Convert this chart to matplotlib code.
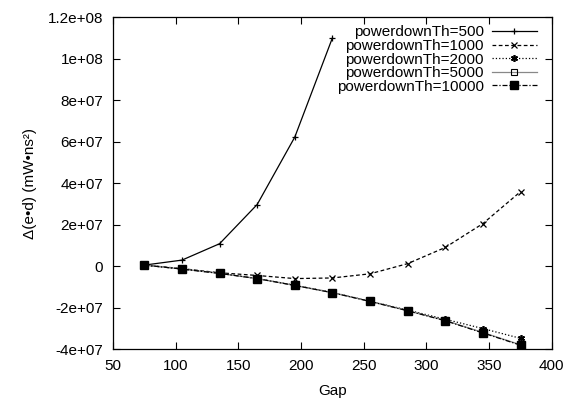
import numpy as np
import matplotlib
matplotlib.use("Agg")
import matplotlib.pyplot as plt

plt.rcParams['font.family'] = ['Liberation Sans', 'DejaVu Sans']

gap = [75, 105, 135, 165, 195, 225, 255, 285, 315, 345, 375]

th500 = [5e5, 2.9e6, 1.08e7, 2.97e7, 6.22e7, 1.10e8]
th1000 = [5e5, -1.2e6, -3.2e6, -4.5e6, -6.0e6, -5.7e6, -3.7e6, 1.2e6, 9.0e6, 2.05e7, 3.59e7]
th2000 = [5e5, -1.4e6, -3.4e6, -6.0e6, -9.2e6, -1.27e7, -1.69e7, -2.12e7, -2.56e7, -3.01e7, -3.48e7]
th5000 = [5e5, -1.4e6, -3.5e6, -6.0e6, -9.3e6, -1.28e7, -1.70e7, -2.15e7, -2.62e7, -3.2e7, -3.79e7]
th10000 = [5e5, -1.4e6, -3.5e6, -6.0e6, -9.3e6, -1.28e7, -1.70e7, -2.15e7, -2.63e7, -3.22e7, -3.81e7]

labels = ['powerdownTh=500', 'powerdownTh=1000', 'powerdownTh=2000',
          'powerdownTh=5000', 'powerdownTh=10000']

fig = plt.figure(figsize=(5.66, 3.99), dpi=100)
ax = fig.add_axes([0.1996, 0.125, 0.7754, 0.832])

lw = 0.9
ax.plot(gap[:len(th500)], th500, '-', color='black', lw=lw, marker='+', ms=5, mew=0.9, label=labels[0])
ax.plot(gap, th1000, '--', color='black', lw=lw, dashes=(3, 2), marker='x', ms=4, mew=0.9, label=labels[1])
ax.plot(gap, th2000, ':', color='black', lw=lw, marker=(6, 2, 0), ms=5, mew=1.2, label=labels[2])
ax.plot(gap, th5000, '-', color='#888888', lw=lw, marker='s', ms=4, mfc='none', mec='black', mew=0.8, label=labels[3])
ax.plot(gap, th10000, '-.', color='black', lw=lw, dashes=(4, 1.5, 1, 1.5), marker='s', ms=5.5, label=labels[4])

ax.set_xlim(50, 400)
ax.set_ylim(-4e7, 1.2e8)
ax.set_xticks(np.arange(50, 401, 50))
yt = np.arange(-4e7, 1.21e8, 2e7)
ax.set_yticks(yt)
ax.set_yticklabels(['-4e+07', '-2e+07', '0', '2e+07', '4e+07', '6e+07', '8e+07', '1e+08', '1.2e+08'])

ax.tick_params(direction='in', top=True, right=True, length=5, width=0.8, labelsize=11, pad=7)
for s in ax.spines.values():
    s.set_linewidth(0.9)

ax.set_xlabel('Gap', fontsize=11, labelpad=8)
ax.set_ylabel('Δ(e•d) (mW•ns²)', fontsize=11, labelpad=8)

leg = ax.legend(loc='upper right', frameon=False, markerfirst=False, fontsize=11,
                handlelength=3.0, handletextpad=0.5, labelspacing=-0.03,
                borderpad=0, borderaxespad=0, bbox_to_anchor=(0.967, 0.975))

fig.savefig('out.png', dpi=100)
